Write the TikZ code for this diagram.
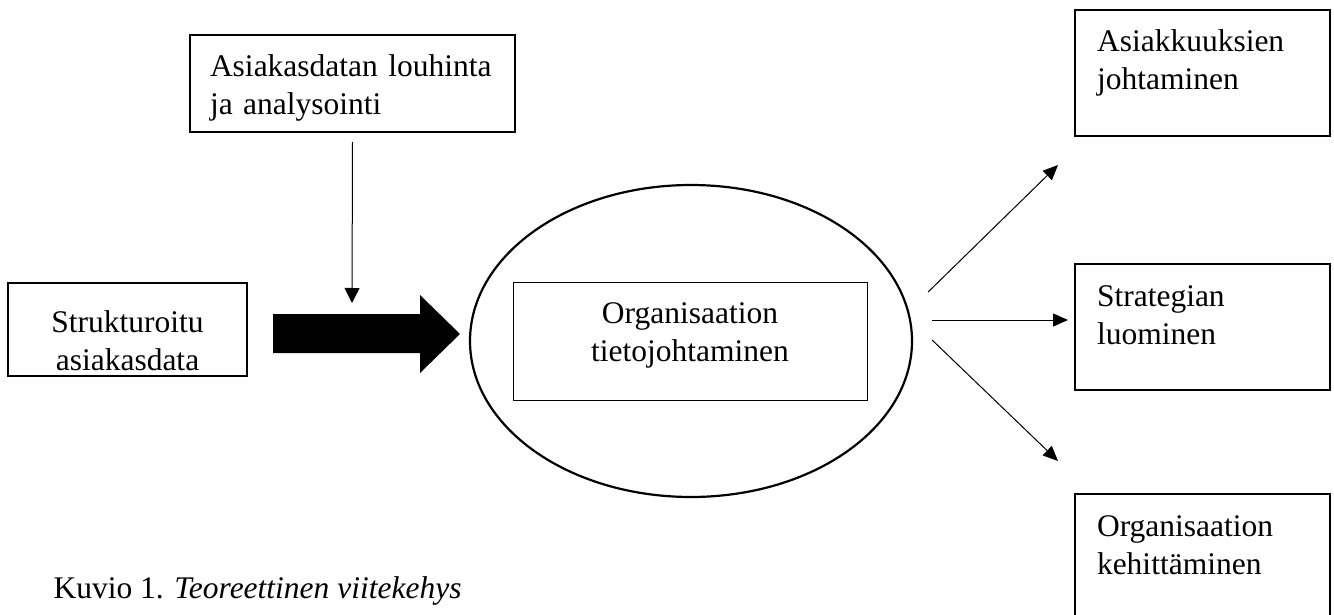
\documentclass[tikz,border=0pt]{standalone}
\usepackage{fontspec}
\setmainfont{Liberation Serif}
\usetikzlibrary{positioning,arrows.meta,shapes.geometric}
\tikzset{
  box/.style    ={draw, line width=1.6pt, anchor=north west, outer sep=0pt,
                  inner ysep=0pt, inner xsep=22pt, font=\fontsize{31.5}{38}\selectfont},
  dims/.style 2 args={text height=#1, text depth=#2},
  outbox/.style ={box, text width=211pt, align=left, dims={42pt}{84pt}},
  fl/.style     ={-{Triangle[length=15pt,width=13pt]}, line width=1pt},
}

\begin{document}
\begin{tikzpicture}[x=1pt, y=-1pt]
  \useasboundingbox (0,0) rectangle (1334,615);

  % inputs on the left
  \node[box, inner xsep=20pt, text width=285pt, align=left, dims={42pt}{55pt}] (mining) at (190,35)
        {Asiakasdatan louhinta\\ja analysointi};
  \node[box, inner xsep=10pt, text width=219pt, align=center, dims={49pt}{44pt}] (data) at (8,283)
        {Strukturoitu\\asiakasdata};

  % knowledge management in the middle
  \node[ellipse, draw, line width=2.2pt, minimum width=442pt, minimum height=312pt,
        inner sep=0pt] (core) at (691,341) {};
  \node[box, line width=1pt, inner xsep=10pt, text width=334pt, align=center,
        dims={41pt}{77pt}] (km) at (513,282)
        {Organisaation\\tietojohtaminen};

  % outcomes on the right
  \node[outbox] (crm)   at (1075,10)  {Asiakkuuksien\\johtaminen};
  \node[outbox] (strat) at (1075,264) {Strategian\\luominen};
  \node[outbox] (dev)   at (1075,494) {Organisaation\\kehittäminen};

  % the block arrow and the arrows
  \fill (273,314) -- (420,314) -- (420,295) -- (460,334) -- (420,373) -- (420,353)
        -- (273,353) -- cycle;
  \coordinate (merge) at (352,303);
  \draw[-{Triangle[length=15pt,width=15pt]}, line width=1pt] ([yshift=-10pt]mining.south) -- (merge);

  \coordinate (toA) at (1058,165);
  \coordinate (toB) at (1068,320);
  \coordinate (toC) at (1058,461);
  \draw[fl] ([shift={(15,-49)}]core.east) -- (toA);
  \draw[fl] ([shift={(19,-21)}]core.east) -- (toB);
  \draw[fl] ([shift={(19,-1)}]core.east)  -- (toC);

  \node[anchor=base west, font=\fontsize{31.5}{38}\selectfont] (caption) at (50,598)
        {Kuvio 1. \textit{Teoreettinen viitekehys}};
\end{tikzpicture}
\end{document}
